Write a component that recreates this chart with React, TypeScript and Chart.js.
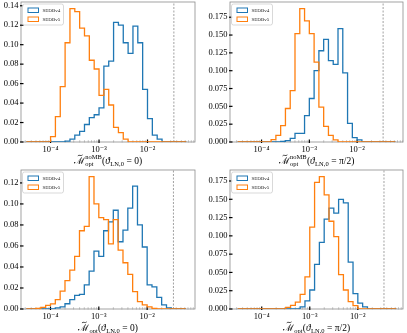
import React, { useEffect, useRef } from "react";
import { Chart, registerables } from "chart.js";

Chart.register(...registerables);

// ---------- data ----------
// 33 histogram bins, log10 edges from -4.5 to -1.2 in steps of 0.1
const BIN_LOG_START = -4.5;
const BIN_LOG_STEP = 0.1;

const seriesLabels = ["SEDBv4", "SEDBv5"];
const thresholdValue = 0.035;

// top-left: noMB, theta = 0
const p1Blue = [0, 0, 0, 0, 0, 0, 0, 0, 0.001, 0.003, 0.007, 0.011, 0.018, 0.025, 0.028, 0.035, 0.078, 0.083, 0.123, 0.12, 0.102, 0.091, 0.119, 0.102, 0.054, 0.024, 0.007, 0.003, 0, 0, 0, 0, 0];
const p1Orange = [0, 0, 0, 0, 0, 0.0055, 0.026, 0.057, 0.102, 0.137, 0.134, 0.117, 0.109, 0.084, 0.075, 0.048, 0.054, 0.038, 0.015, 0.0096, 0.003, 0, 0, 0, 0, 0, 0, 0, 0, 0, 0, 0, 0];
// top-right: noMB, theta = pi/2
const p2Blue = [0, 0, 0, 0, 0, 0, 0, 0, 0, 0.001, 0.002, 0.005, 0.012, 0.012, 0.037, 0.061, 0.1, 0.128, 0.144, 0.114, 0.109, 0.159, 0.097, 0.026, 0.006, 0.003, 0, 0, 0, 0, 0, 0, 0];
const p2Orange = [0, 0, 0, 0, 0, 0, 0, 0.0033, 0.0093, 0.023, 0.047, 0.072, 0.152, 0.187, 0.17, 0.152, 0.112, 0.049, 0.022, 0.0093, 0.003, 0, 0, 0, 0, 0, 0, 0, 0, 0, 0, 0, 0];
// bottom-left: theta = 0
const p3Blue = [0, 0, 0, 0, 0, 0, 0.001, 0.002, 0.005, 0.009, 0.013, 0.014, 0.023, 0.036, 0.055, 0.05, 0.0745, 0.083, 0.094, 0.064, 0.075, 0.096, 0.117, 0.08, 0.059, 0.023, 0.021, 0.011, 0.004, 0.001, 0, 0, 0];
const p3Orange = [0, 0, 0.0005, 0.0016, 0.0035, 0.0048, 0.009, 0.017, 0.027, 0.037, 0.05, 0.0745, 0.0786, 0.126, 0.1, 0.087, 0.085, 0.062, 0.085, 0.056, 0.044, 0.033, 0.0165, 0.007, 0.004, 0.002, 0.0006, 0, 0, 0, 0, 0, 0];
// bottom-right: theta = pi/2
const p4Blue = [0, 0, 0, 0, 0, 0, 0, 0, 0, 0, 0, 0, 0, 0.003, 0.011, 0.026, 0.061, 0.091, 0.123, 0.138, 0.131, 0.15, 0.145, 0.064, 0.021, 0.008, 0.003, 0, 0, 0, 0, 0, 0];
const p4Orange = [0, 0, 0, 0, 0, 0, 0, 0, 0, 0, 0.0023, 0.005, 0.0095, 0.02, 0.044, 0.112, 0.173, 0.181, 0.156, 0.12, 0.099, 0.047, 0.026, 0.01, 0.0045, 0, 0, 0, 0, 0, 0, 0, 0];

const yTicksA = [0, 0.02, 0.04, 0.06, 0.08, 0.1, 0.12, 0.14];
const yTicksB = [0, 0.025, 0.05, 0.075, 0.1, 0.125, 0.15, 0.175];
const xMajorExponents = [-4, -3, -2];

// ---------- style ----------
const SERIF = "'Liberation Serif', 'DejaVu Serif', serif";
const BLUE = "#1f77b4";
const ORANGE = "#ff7f0e";
const SUPS: Record<string, string> = { "-": "\u207b", "0": "\u2070", "1": "\u00b9", "2": "\u00b2", "3": "\u00b3", "4": "\u2074", "5": "\u2075", "6": "\u2076", "7": "\u2077", "8": "\u2078", "9": "\u2079" };

type Tok = { t: string; italic?: boolean; sub?: string; sup?: string; tilde?: boolean };

const titleTheta0NoMB: Tok[] = [
  { t: "\u2133", tilde: true, sub: "opt", sup: "noMB" },
  { t: "(" },
  { t: "\u03d1", italic: true, sub: "LN,0" },
  { t: " = 0)" },
];
const titleThetaPiNoMB: Tok[] = [
  { t: "\u2133", tilde: true, sub: "opt", sup: "noMB" },
  { t: "(" },
  { t: "\u03d1", italic: true, sub: "LN,0" },
  { t: " = \u03c0/2)" },
];
const titleTheta0: Tok[] = [
  { t: "\u2133", tilde: true, sub: "opt" },
  { t: "(" },
  { t: "\u03d1", italic: true, sub: "LN,0" },
  { t: " = 0)" },
];
const titleThetaPi: Tok[] = [
  { t: "\u2133", tilde: true, sub: "opt" },
  { t: "(" },
  { t: "\u03d1", italic: true, sub: "LN,0" },
  { t: " = \u03c0/2)" },
];

type PanelSpec = {
  left: number; top: number; w: number; h: number;
  padTop: number; padRight: number; yWidth: number; xHeight: number;
  blue: number[]; orange: number[];
  xMinExp: number; xMaxExp: number;
  yTicks: number[]; yDec: number;
  title: Tok[];
};

const panels: PanelSpec[] = [
  { left: 0, top: 0, w: 204, h: 167, padTop: 2, padRight: 9, yWidth: 21, xHeight: 25, blue: p1Blue, orange: p1Orange, xMinExp: -4.61, xMaxExp: -1.02, yTicks: yTicksA, yDec: 2, title: titleTheta0NoMB },
  { left: 204, top: 0, w: 203, h: 167, padTop: 2, padRight: 4, yWidth: 26, xHeight: 25, blue: p2Blue, orange: p2Orange, xMinExp: -4.66, xMaxExp: -1.04, yTicks: yTicksB, yDec: 3, title: titleThetaPiNoMB },
  { left: 0, top: 166, w: 204, h: 167, padTop: 4, padRight: 9, yWidth: 21, xHeight: 24, blue: p3Blue, orange: p3Orange, xMinExp: -4.61, xMaxExp: -1.01, yTicks: yTicksA, yDec: 2, title: titleTheta0 },
  { left: 204, top: 166, w: 203, h: 167, padTop: 4, padRight: 4, yWidth: 26, xHeight: 24, blue: p4Blue, orange: p4Orange, xMinExp: -4.66, xMaxExp: -1.06, yTicks: yTicksB, yDec: 3, title: titleThetaPi },
];

// ---------- helpers ----------
function binEdge(k: number) {
  return Math.pow(10, BIN_LOG_START + k * BIN_LOG_STEP);
}

function stepPoints(values: number[]) {
  const pts: { x: number; y: number }[] = [{ x: binEdge(0), y: 0 }];
  values.forEach((v, k) => {
    pts.push({ x: binEdge(k), y: v });
    pts.push({ x: binEdge(k + 1), y: v });
  });
  pts.push({ x: binEdge(values.length), y: 0 });
  return pts;
}

function isMajor(v: number) {
  const l = Math.log10(v);
  return Math.abs(l - Math.round(l)) < 1e-6;
}

function supText(n: number) {
  return String(n).split("").map((c) => SUPS[c] || c).join("");
}

function drawMath(ctx: CanvasRenderingContext2D, toks: Tok[], cx: number, y: number) {
  const S = 9.5;
  const s = 6.5;
  const mainFont = (it?: boolean) => `${it ? "italic " : ""}${S}px ${SERIF}`;
  const scriptFont = `${s}px ${SERIF}`;
  const dims = toks.map((tok) => {
    ctx.font = mainFont(tok.italic);
    const w = ctx.measureText(tok.t).width;
    ctx.font = scriptFont;
    let sw = 0;
    if (tok.sub) sw = Math.max(sw, ctx.measureText(tok.sub).width);
    if (tok.sup) sw = Math.max(sw, ctx.measureText(tok.sup).width);
    return { w, sw: sw ? sw + 0.6 : 0 };
  });
  const total = dims.reduce((a, d) => a + d.w + d.sw, 0);
  let x = cx - total / 2;
  ctx.fillStyle = "#000";
  ctx.textBaseline = "alphabetic";
  ctx.textAlign = "left";
  toks.forEach((tok, i) => {
    const d = dims[i];
    ctx.font = mainFont(tok.italic);
    ctx.fillText(tok.t, x, y);
    if (tok.tilde) {
      const xc = x + d.w / 2 + 0.8;
      const yc = y - S * 0.86;
      ctx.save();
      ctx.strokeStyle = "#000";
      ctx.lineWidth = 0.7;
      ctx.beginPath();
      ctx.moveTo(xc - 2.4, yc + 0.6);
      ctx.bezierCurveTo(xc - 1.0, yc - 1.3, xc + 0.6, yc + 1.5, xc + 2.4, yc - 0.5);
      ctx.stroke();
      ctx.restore();
    }
    ctx.font = scriptFont;
    if (tok.sub) ctx.fillText(tok.sub, x + d.w + 0.4, y + 2.6);
    if (tok.sup) ctx.fillText(tok.sup, x + d.w + 0.4, y - 4.2);
    x += d.w + d.sw;
  });
}

function makeConfig(spec: PanelSpec): any {
  const ymax = Math.max(...spec.blue, ...spec.orange) * 1.05;
  const xmin = Math.pow(10, spec.xMinExp);
  const xmax = Math.pow(10, spec.xMaxExp);

  const framePlugin = {
    id: "frameTicks",
    beforeDatasetsDraw(chart: any) {
      const { ctx, chartArea: a, scales } = chart;
      ctx.save();
      ctx.strokeStyle = "#8c8c8c";
      ctx.lineWidth = 0.8;
      ctx.strokeRect(a.left, a.top, a.right - a.left, a.bottom - a.top);
      const xs = scales.x;
      for (const t of xs.ticks) {
        const px = xs.getPixelForValue(t.value);
        if (px < a.left - 0.5 || px > a.right + 0.5) continue;
        const major = isMajor(t.value);
        ctx.strokeStyle = major ? "#000" : "#9a9a9a";
        ctx.lineWidth = major ? 1.2 : 0.6;
        ctx.beginPath();
        ctx.moveTo(px, a.bottom + (major ? 1 : 0.5));
        ctx.lineTo(px, a.bottom - (major ? 2.5 : 1.8));
        ctx.stroke();
      }
      const ys = scales.y;
      for (const t of ys.ticks) {
        const py = ys.getPixelForValue(t.value);
        ctx.strokeStyle = "#000";
        ctx.lineWidth = 1.2;
        ctx.beginPath();
        ctx.moveTo(a.left - 1, py);
        ctx.lineTo(a.left + 2.5, py);
        ctx.stroke();
      }
      ctx.restore();
    },
  };

  const legendTitlePlugin = {
    id: "legendTitle",
    afterDraw(chart: any) {
      const { ctx, chartArea: a } = chart;
      ctx.save();
      // legend
      const bx = a.left + 1.5;
      const by = a.top + 2;
      const bw = 41;
      const bh = 21;
      ctx.fillStyle = "rgba(255,255,255,0.85)";
      ctx.strokeStyle = "#cfcfcf";
      ctx.lineWidth = 0.8;
      ctx.beginPath();
      (ctx as any).roundRect(bx, by, bw, bh, 2);
      ctx.fill();
      ctx.stroke();
      const hist = chart.data.datasets.filter((d: any) => d.isHist);
      hist.forEach((d: any, i: number) => {
        const ry = by + 4 + i * 9;
        ctx.strokeStyle = d.borderColor;
        ctx.lineWidth = 1;
        ctx.strokeRect(bx + 5.5, ry, 10.5, 4.5);
        ctx.fillStyle = "#222";
        ctx.font = `5px ${SERIF}`;
        ctx.textBaseline = "middle";
        ctx.textAlign = "left";
        ctx.fillText(d.label, bx + 20, ry + 2.5);
      });
      // x-axis title
      drawMath(ctx, spec.title, (a.left + a.right) / 2, a.bottom + 21.5);
      ctx.restore();
    },
  };

  return {
    type: "line",
    data: {
      datasets: [
        { label: seriesLabels[0], isHist: true, data: stepPoints(spec.blue), borderColor: BLUE, borderWidth: 1.3, pointRadius: 0, tension: 0, fill: false, order: 1 },
        { label: seriesLabels[1], isHist: true, data: stepPoints(spec.orange), borderColor: ORANGE, borderWidth: 1.3, pointRadius: 0, tension: 0, fill: false, order: 0 },
        { label: "threshold", isHist: false, data: [{ x: thresholdValue, y: 0 }, { x: thresholdValue, y: ymax }], borderColor: "#8a8a8a", borderWidth: 0.8, borderDash: [2, 1.5], pointRadius: 0, fill: false, order: 2 },
      ],
    },
    options: {
      animation: false,
      responsive: false,
      events: [],
      layout: { padding: { top: spec.padTop, right: spec.padRight, left: 0, bottom: 0 } },
      plugins: { legend: { display: false }, tooltip: { enabled: false }, title: { display: false } },
      scales: {
        x: {
          type: "logarithmic",
          min: xmin,
          max: xmax,
          border: { display: false },
          grid: { display: false, drawTicks: false },
          afterBuildTicks(scale: any) {
            const ticks: { value: number }[] = [];
            for (let e = -5; e <= -1; e++) {
              for (let m = 1; m <= 9; m++) {
                const v = m * Math.pow(10, e);
                if (v >= xmin && v <= xmax) ticks.push({ value: v });
              }
            }
            scale.ticks = ticks;
          },
          ticks: {
            autoSkip: false,
            maxRotation: 0,
            minRotation: 0,
            padding: 2.5,
            color: "#000",
            font: { family: SERIF, size: 8.5 },
            callback(value: any) {
              const v = Number(value);
              if (!isMajor(v)) return "";
              const e = Math.round(Math.log10(v));
              return xMajorExponents.includes(e) ? "10" + supText(e) : "";
            },
          },
          afterFit(scale: any) {
            scale.height = spec.xHeight;
            scale.paddingLeft = 0;
            scale.paddingRight = 0;
          },
        },
        y: {
          type: "linear",
          min: 0,
          max: ymax,
          border: { display: false },
          grid: { display: false, drawTicks: false },
          afterBuildTicks(scale: any) {
            scale.ticks = spec.yTicks.filter((v) => v <= ymax).map((v) => ({ value: v }));
          },
          ticks: {
            padding: 2.5,
            color: "#000",
            font: { family: SERIF, size: 8.5 },
            callback(value: any) {
              return Number(value).toFixed(spec.yDec);
            },
          },
          afterFit(scale: any) {
            scale.width = spec.yWidth;
            scale.paddingTop = 0;
            scale.paddingBottom = 0;
          },
        },
      },
    },
    plugins: [framePlugin, legendTitlePlugin],
  };
}

function Panel({ spec }: { spec: PanelSpec }) {
  const ref = useRef<HTMLCanvasElement>(null);
  useEffect(() => {
    if (!ref.current) return;
    const chart = new Chart(ref.current, makeConfig(spec));
    return () => chart.destroy();
  }, [spec]);
  return (
    <canvas
      ref={ref}
      width={spec.w}
      height={spec.h}
      style={{ position: "absolute", left: spec.left, top: spec.top, width: spec.w, height: spec.h }}
    />
  );
}

export default function App() {
  return (
    <div style={{ position: "fixed", left: 0, top: 0, width: 407, height: 333, background: "#fff", overflow: "hidden" }}>
      {panels.map((p, i) => (
        <Panel key={i} spec={p} />
      ))}
    </div>
  );
}
